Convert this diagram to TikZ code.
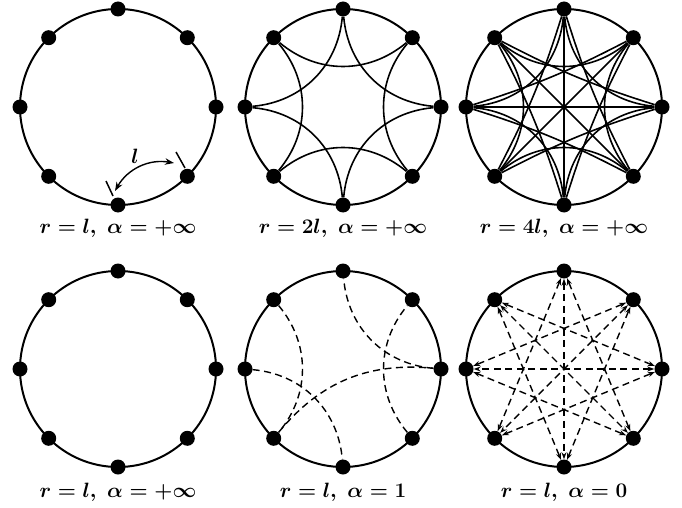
\documentclass[tikz,border=0pt]{standalone}
\usetikzlibrary{arrows.meta}
\begin{document}
\begin{tikzpicture}[x=1pt,y=1pt,
  dot/.style={circle,fill=black,inner sep=0pt,minimum size=15pt},
  ring/.style={line width=2pt},
  edge/.style={line width=1.6pt},
  dline/.style={line width=1.4pt,dash pattern=on 7pt off 4.5pt},
  darr/.style={dline,{Stealth[length=7pt,width=5pt]}-{Stealth[length=7pt,width=5pt]}},
  tick/.style={line width=1.5pt},
  lab/.style={font=\fontsize{19.5}{22}\selectfont\boldmath}]
\useasboundingbox (0,0) rectangle (682,507);
\newcommand\mkpanel[3]{%
  \coordinate (#1c) at (#2,#3);
  \draw[ring] (#1c) circle (98);
  \begin{scope}[shift={(#2,#3)}]
    \foreach \k in {0,...,7}{\node[dot] (#1\k) at (45*\k:98) {};}
  \end{scope}}
% panels
\mkpanel{A}{118}{400}
\mkpanel{B}{343}{400}
\mkpanel{C}{564}{400}
\mkpanel{D}{118}{138}
\mkpanel{E}{343}{138}
\mkpanel{F}{564}{138}
% panel A: arc arrow l
\coordinate (t1a) at (106,326);
\coordinate (t1b) at (113,311);
\coordinate (t2a) at (176,355);
\coordinate (t2b) at (185,339);
\coordinate (a1) at (115,316);
\coordinate (a2) at (174,344);
\draw[tick] (t1a) -- (t1b);
\draw[tick] (t2a) -- (t2b);
\draw[line width=1.4pt,{Stealth[length=9pt,width=6.5pt]}-{Stealth[length=9pt,width=6.5pt]}] (a1) to[bend left=35] (a2);
\node[lab] (ll) at (135,351) {$l$};
% panel B: two-step arcs
\foreach \k in {0,...,7}{
  \pgfmathtruncatemacro\j{mod(\k+2,8)}
  \draw[edge] (B\k) to[bend left=40] (B\j);}
% panel C
\foreach \k in {0,...,7}{
  \pgfmathtruncatemacro\j{mod(\k+2,8)}
  \pgfmathtruncatemacro\m{mod(\k+3,8)}
  \draw[edge] (C\k) to[bend left=40] (C\j);
  \draw[edge] (C\k) to[bend left=5] (C\m);}
\foreach \k in {0,...,3}{
  \pgfmathtruncatemacro\j{\k+4}
  \draw[edge] (C\k) -- (C\j);}
% panel E: rewired dashed arcs
\draw[dline] (E3) to[bend left=40] (E5);
\draw[dline] (E4) to[bend left=40] (E6);
\draw[dline] (E0) to[bend left=40] (E2);
\draw[dline] (E7) to[bend left=40] (E1);
\draw[dline] (E5) to[bend left=28] (E0);
% panel F: dashed star
\foreach \k in {0,...,7}{
  \pgfmathtruncatemacro\m{mod(\k+3,8)}
  \draw[darr] (F\k) -- (F\m);}
\foreach \k in {0,...,3}{
  \pgfmathtruncatemacro\j{\k+4}
  \draw[darr] (F\k) -- (F\j);}
% labels
\node[lab] (LA) at (118,279) {$r=l,\;\alpha=+\infty$};
\node[lab] (LB) at (343,279) {$r=2l,\;\alpha=+\infty$};
\node[lab] (LC) at (564,279) {$r=4l,\;\alpha=+\infty$};
\node[lab] (LD) at (118,15) {$r=l,\;\alpha=+\infty$};
\node[lab] (LE) at (343,15) {$r=l,\;\alpha=1$};
\node[lab] (LF) at (564,15) {$r=l,\;\alpha=0$};
\end{tikzpicture}
\end{document}
